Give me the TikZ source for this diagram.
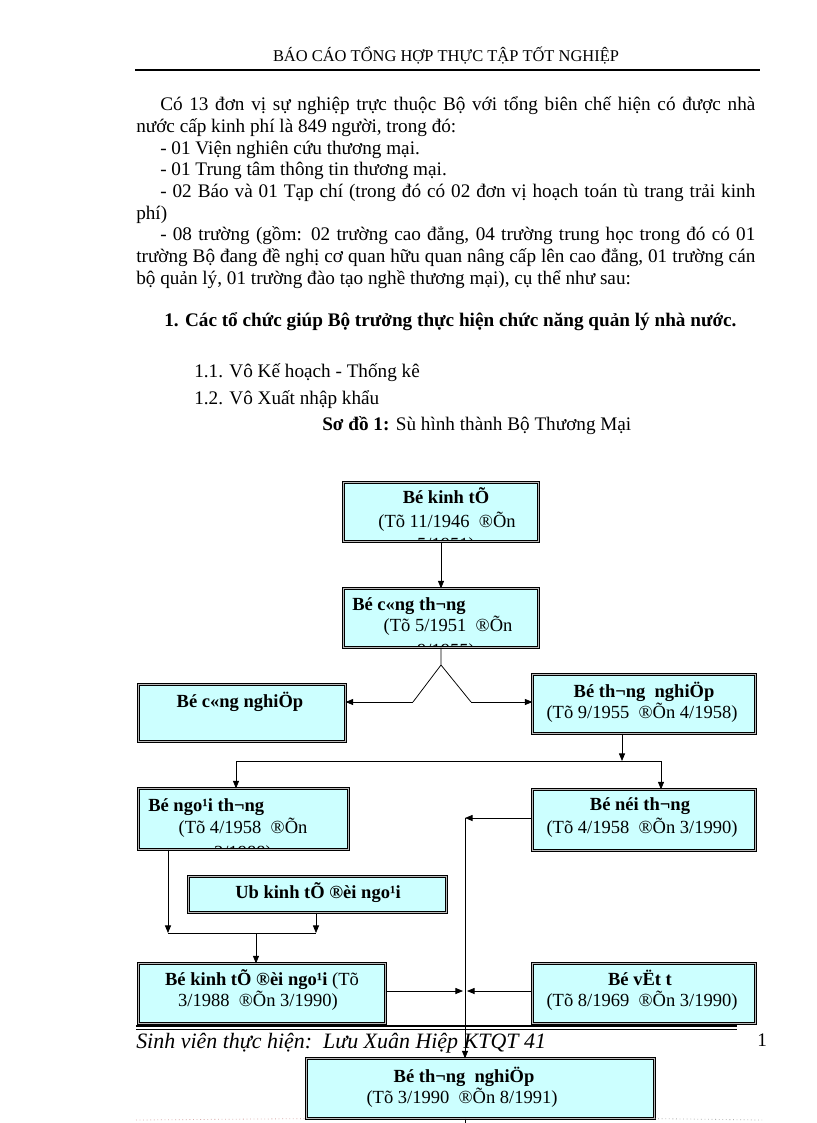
\documentclass[tikz,border=0pt]{standalone}
\usepackage{fontspec}
\setmainfont{Liberation Serif}
\usetikzlibrary{arrows.meta,calc}
\definecolor{boxfill}{RGB}{204,255,255}
\newcommand\mkbox[5]{\node[boxst, minimum width={(#4-#2-2.8)*0.7292pt}, minimum height={(#5-#3-2.8)*0.7292pt}] (#1) at ({(#2+#4)/2},{(#3+#5)/2}) {};}
\begin{document}
\begin{tikzpicture}[x=0.7292pt,y=-0.7292pt,
  boxst/.style={draw=black, double=gray!55, double distance=1pt, line width=0.5pt, fill=boxfill, inner sep=0pt, outer sep=0pt, rectangle},
  btxt/.style={anchor=base, inner sep=0pt, font=\fontsize{13.5}{16}\selectfont},
  body/.style={anchor=base west, inner sep=0pt, font=\fontsize{14}{16}\selectfont},
  arr/.style={-{Triangle[length=5.5pt,width=4.4pt]}, line width=0.55pt},
  conn/.style={line width=0.55pt}]
\fill[white] (0,0) rectangle (816,1123);
\useasboundingbox (0,0) rectangle (816,1123);

% header
\node[anchor=base, inner sep=0pt, font=\fontsize{12}{14}\selectfont] (hdr) at (446,62) {BÁO CÁO TỔNG HỢP THỰC TẬP TỐT NGHIỆP};
\draw[line width=1.4pt] (135,70) -- (760,70);

% body text
\node[body] (l1) at (160,111) {\makebox[433.9pt][s]{Có 13 đơn vị sự nghiệp trực thuộc Bộ với tổng biên chế hiện có được nhà}};
\node[body] (l2) at (136,133) {nước cấp kinh phí là 849 người, trong đó:};
\node[body] (l3) at (160,155) {- 01 Viện nghiên cứu thương mại.};
\node[body] (l4) at (160,176) {- 01 Trung tâm thông tin thương mại.};
\node[body] (l5) at (160,198) {\makebox[433.9pt][s]{- 02 Báo và 01 Tạp chí (trong đó có 02 đơn vị hoạch toán tù trang trải kinh}};
\node[body] (l6) at (136,220) {phí)};
\node[body] (l7) at (160,241) {\makebox[433.9pt][s]{- 08 trường (gồm: 02 trường cao đẳng, 04 trường trung học trong đó có 01}};
\node[body] (l8) at (136,263) {\makebox[451.4pt][s]{trường Bộ đang đề nghị cơ quan hữu quan nâng cấp lên cao đẳng, 01 trường cán}};
\node[body] (l9) at (136,285) {bộ quản lý, 01 trường đào tạo nghề thương mại), cụ thể như sau:};

\node[body, font=\fontsize{14}{16}\selectfont\bfseries] (h1) at (164,327) {1. Các tổ chức giúp Bộ trưởng thực hiện chức năng quản lý nhà nước.};
\node[body] (h11) at (194,378) {1.1. Vô Kế hoạch - Thống kê};
\node[body] (h12) at (194,404) {1.2. Vô Xuất nhập khẩu};
\node[body] (cap) at (322,430) {\textbf{Sơ đồ 1:} Sù hình thành\ Bộ Thương Mại};

% boxes
\mkbox{b1}{342}{481}{540}{543}
\mkbox{b2}{342}{587}{540}{649}
\mkbox{b3}{137}{683}{347}{743}
\mkbox{b4}{531}{673}{757}{735}
\mkbox{b5}{137}{787}{350}{851}
\mkbox{b6}{531}{788}{757}{852}
\mkbox{b7}{187}{875}{448}{914}
\mkbox{b8}{137}{962}{387}{1025}
\mkbox{b9}{531}{962}{757}{1025}
\mkbox{b10}{305}{1057}{656}{1120}

% box texts
\begin{scope}
\clip ($(b1.south west)+(2,-2)$) rectangle ($(b1.north east)+(-2,2)$);
\node[btxt] (t1a) at (446,503) {\bfseries Bé kinh tÕ};
\node[btxt] (t1b) at (447,527) {(Tõ 11/1946\ \ ®Õn};
\node[btxt] (t1c) at (446,550.5) {5/1951)};
\end{scope}
\begin{scope}
\clip ($(b2.south west)+(2,-2)$) rectangle ($(b2.north east)+(-2,2)$);
\node[btxt, anchor=base west] (t2a) at (352,610) {\bfseries Bé c«ng th¬ng};
\node[btxt] (t2b) at (448,631) {(Tõ 5/1951\ \ ®Õn};
\node[btxt] (t2c) at (446,656.5) {9/1955)};
\end{scope}
\node[btxt] (t3a) at (240,707) {\bfseries Bé c«ng nghiÖp};
\node[btxt] (t4a) at (644,697) {\bfseries Bé th¬ng\ \ nghiÖp};
\node[btxt] (t4b) at (642,718) {(Tõ 9/1955\ \ ®Õn 4/1958)};
\begin{scope}
\clip ($(b5.south west)+(2,-2)$) rectangle ($(b5.north east)+(-2,2)$);
\node[btxt, anchor=base west] (t5a) at (148,811) {\bfseries Bé ngo¹i th¬ng};
\node[btxt] (t5b) at (243,833) {(Tõ 4/1958\ \ ®Õn};
\node[btxt] (t5c) at (243,858) {3/1988)};
\end{scope}
\node[btxt] (t6a) at (640,810) {\bfseries Bé néi th¬ng};
\node[btxt] (t6b) at (642,833) {(Tõ 4/1958\ \ ®Õn 3/1990)};
\node[btxt] (t7a) at (318,898) {\bfseries Ub kinh tÕ ®èi ngo¹i};
\node[btxt] (t8a) at (262,985) {\textbf{Bé kinh tÕ ®èi ngo¹i} (Tõ};
\node[btxt] (t8b) at (258,1006) {3/1988\ \ ®Õn 3/1990)};
\node[btxt] (t9a) at (640,985) {\bfseries Bé vËt t};
\node[btxt] (t9b) at (642,1006) {(Tõ 8/1969\ \ ®Õn 3/1990)};
\node[btxt] (t10a) at (464,1082) {\bfseries Bé th¬ng\ \ nghiÖp};
\node[btxt] (t10b) at (462,1103) {(Tõ 3/1990\ \ ®Õn 8/1991)};

% connectors
\coordinate (pk) at (441,665);
\coordinate (vl) at (413,702);
\coordinate (vr) at (471,702);
\draw[arr] (b1.south) -- (b2.north);
\draw[conn] (b2.south) -- (pk) -- (vl);
\draw[conn] (pk) -- (vr);
\draw[arr] (vl) -- (vl -| b3.east);
\draw[arr] (vr) -- (vr -| b4.west);

\coordinate (j0) at (622,761);
\coordinate (jl) at (236,761);
\coordinate (jr) at (661,761);
\draw[arr] (b4.south -| j0) -- (j0);
\draw[conn] (jl) -- (jr);
\draw[arr] (jl) -- (jl |- b5.north);
\draw[arr] (jr) -- (jr |- b6.north);

\coordinate (c1) at (465,818);
\draw[arr] (b6.west |- c1) -- (c1);
\draw[arr] (c1) -- (c1 |- b10.north);

\coordinate (k1) at (168,933);
\coordinate (k2) at (316,933);
\coordinate (k3) at (256,933);
\draw[arr] (b5.south -| k1) -- (k1);
\draw[arr] (b7.south -| k2) -- (k2);
\draw[conn] (k1) -- (k2);
\draw[arr] (k3) -- (k3 |- b8.north);

\coordinate (ml) at (463,991);
\coordinate (mr) at (467,991);
\draw[arr] (b8.east |- ml) -- (ml);
\draw[arr] (b9.west |- mr) -- (mr);

\coordinate (bot) at (465,1123);
\draw[conn] (b10.south -| c1) -- (bot);

% footer
\draw[line width=1pt] (136,1026) -- (737,1026);
\draw[line width=0.5pt] (136,1029.5) -- (737,1029.5);
\node[body, font=\fontsize{16}{18}\selectfont\itshape] (ft) at (136,1048) {Sinh viên thực hiện:\ \ Lưu Xuân Hiệp KTQT 41};
\node[body] (pg) at (757,1046) {1};
\draw[dotted, line width=0.6pt, pink!70!gray] (136,1120) -- (b10.south west);
\draw[dotted, line width=0.6pt, gray!60] (b10.south east) -- (762,1120);
\end{tikzpicture}
\end{document}
